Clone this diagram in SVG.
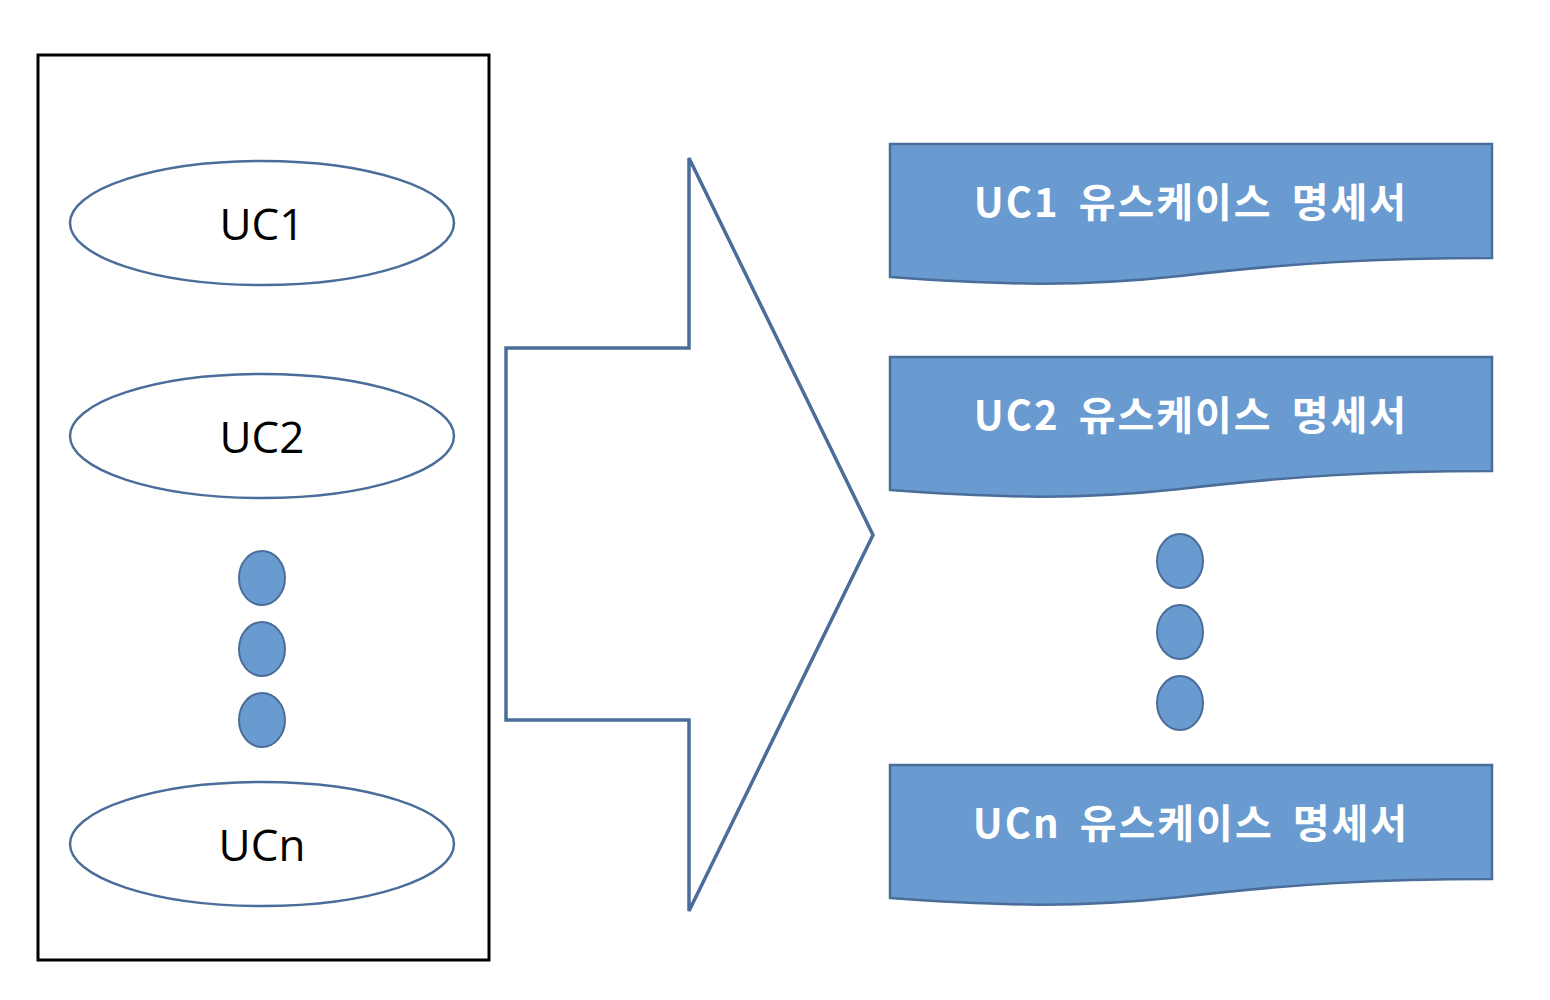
<svg xmlns="http://www.w3.org/2000/svg" width="1550" height="1000" viewBox="0 0 1550 1000">
<style>
.uc{fill:#fff;stroke:#4a6d99;stroke-width:2.5}
.dot{fill:#6a9bd0;stroke:#4a6d99;stroke-width:2}
.lbl{font-family:"Open Sans","Noto Sans CJK KR",sans-serif;font-size:44px;fill:#000;text-anchor:middle}
.doc{fill:#6a9bd0;stroke:#4a6d99;stroke-width:2.5}
.dl{font-family:"Noto Sans CJK KR","Open Sans",sans-serif;font-size:40px;font-weight:bold;fill:#fff;text-anchor:middle;letter-spacing:2px;word-spacing:8px}
</style>
<rect width="1550" height="1000" fill="#fff"/>
<g id="system">
<rect x="38" y="55" width="451" height="905" fill="none" stroke="#000" stroke-width="3"/>
</g>
<g id="uc1"><ellipse class="uc" cx="262" cy="223" rx="192" ry="62"/><text class="lbl" x="262" y="240">UC1</text></g>
<g id="uc2"><ellipse class="uc" cx="262" cy="436" rx="192" ry="62"/><text class="lbl" x="262" y="453">UC2</text></g>
<g id="dotsL">
<ellipse class="dot" cx="262" cy="578" rx="23" ry="27"/>
<ellipse class="dot" cx="262" cy="649" rx="23" ry="27"/>
<ellipse class="dot" cx="262" cy="720" rx="23" ry="27"/>
</g>
<g id="ucn"><ellipse class="uc" cx="262" cy="844" rx="192" ry="62"/><text class="lbl" x="262" y="861">UCn</text></g>
<g id="connectors">
<polygon points="506,348 689,348 689,158 873,535 689,911 689,720 506,720" fill="#fff" stroke="#4a6d99" stroke-width="3.5"/>
</g>
<g id="doc1">
<path class="doc" d="M890,144 H1492 V258 C1380,258 1290,263 1180,276 C1080,287 1000,285 890,277 Z"/>
<text class="dl" x="1191" y="217">UC1 유스케이스 명세서</text>
</g>
<g id="doc2">
<path class="doc" d="M890,357 H1492 V471 C1380,471 1290,476 1180,489 C1080,500 1000,498 890,490 Z"/>
<text class="dl" x="1191" y="430">UC2 유스케이스 명세서</text>
</g>
<g id="dotsR">
<ellipse class="dot" cx="1180" cy="561" rx="23" ry="27"/>
<ellipse class="dot" cx="1180" cy="632" rx="23" ry="27"/>
<ellipse class="dot" cx="1180" cy="703" rx="23" ry="27"/>
</g>
<g id="docn">
<path class="doc" d="M890,765 H1492 V879 C1380,879 1290,884 1180,897 C1080,908 1000,906 890,898 Z"/>
<text class="dl" x="1191" y="838">UCn 유스케이스 명세서</text>
</g>
</svg>
